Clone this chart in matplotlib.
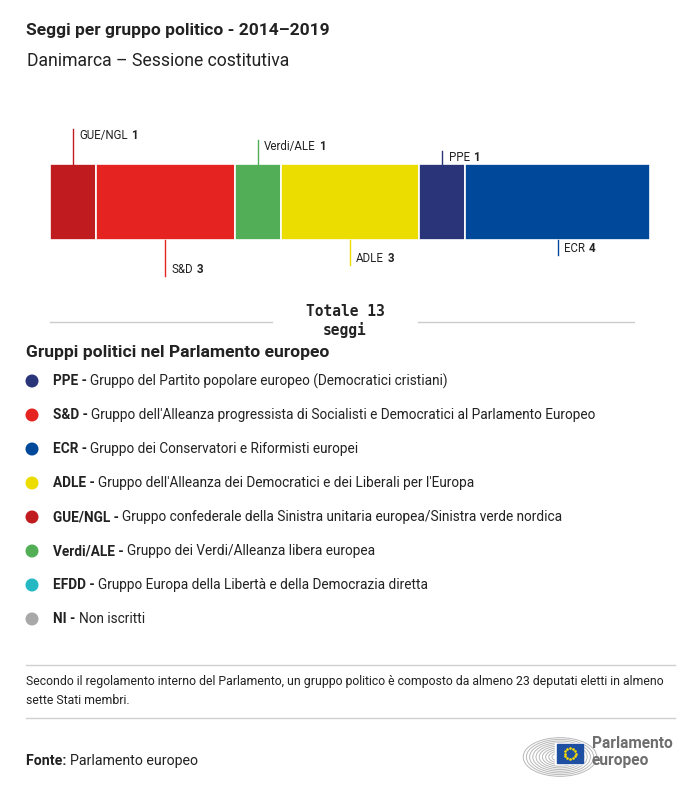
import matplotlib
matplotlib.use("Agg")
import matplotlib.pyplot as plt
from matplotlib.transforms import blended_transform_factory
from matplotlib.patches import Circle, Arc, Rectangle
import numpy as np

plt.rcParams['font.family'] = ['Roboto', 'DejaVu Sans']

# ---- data ----
groups = ["GUE/NGL", "S&D", "Verdi/ALE", "ADLE", "PPE", "ECR"]
seats = [1, 3, 1, 3, 1, 4]
bar_colors = ["#C01B1E", "#E52421", "#52AE57", "#EBDD00", "#2A3479", "#00489A"]
label_side = ["above", "below", "above", "below", "above", "below"]
label_level = [0.46, 0.47, 0.32, 0.33, 0.17, 0.20]   # leader line lengths (axes fraction)

legend_abbr = ["PPE", "S&D", "ECR", "ADLE", "GUE/NGL", "Verdi/ALE", "EFDD", "NI"]
legend_desc = [
    "Gruppo del Partito popolare europeo (Democratici cristiani)",
    "Gruppo dell'Alleanza progressista di Socialisti e Democratici al Parlamento Europeo",
    "Gruppo dei Conservatori e Riformisti europei",
    "Gruppo dell'Alleanza dei Democratici e dei Liberali per l'Europa",
    "Gruppo confederale della Sinistra unitaria europea/Sinistra verde nordica",
    "Gruppo dei Verdi/Alleanza libera europea",
    "Gruppo Europa della Libertà e della Democrazia diretta",
    "Non iscritti",
]
legend_colors = ["#2A3479", "#E52421", "#00489A", "#EBDD00", "#C01B1E", "#52AE57", "#24B8C3", "#A8A8A8"]

title = "Seggi per gruppo politico - 2014–2019"
subtitle = "Danimarca – Sessione costitutiva"
total_seats = sum(seats)

W, H = 700, 786
fig = plt.figure(figsize=(W / 100, H / 100), dpi=100)
fig.patch.set_facecolor("white")

# overlay axes in pixel coordinates
ov = fig.add_axes([0, 0, 1, 1])
ov.set_xlim(0, W)
ov.set_ylim(H, 0)
ov.axis("off")

TXT = "#222222"
ov.text(26, 30, title, fontsize=12.5, fontweight="bold", color=TXT, va="center", ha="left")
ov.text(27, 61, subtitle, fontsize=12.7, color=TXT, va="center", ha="left")

# ---- stacked bar ----
bx0, bx1, by0, by1 = 50, 650, 164, 240
bax = fig.add_axes([bx0 / W, 1 - by1 / H, (bx1 - bx0) / W, (by1 - by0) / H])
bax.set_xlim(0, total_seats)
bax.set_ylim(0, 1)
bax.axis("off")
lefts = np.concatenate([[0], np.cumsum(seats)[:-1]])
bax.barh([0.5] * len(seats), seats, left=lefts, height=1.0, color=bar_colors,
         edgecolor="white", linewidth=1.2)

tr = blended_transform_factory(bax.transData, bax.transAxes)
for g, s, l, c, side, lev in zip(groups, seats, lefts, bar_colors, label_side, label_level):
    cx = l + s / 2
    if side == "above":
        y0, y1 = 1.0, 1.0 + lev
        ty = 1.0 + lev
        va = "top"
    else:
        y0, y1 = 0.0, -lev
        ty = -lev + 0.0
        va = "bottom"
    bax.plot([cx, cx], [y0, y1], color=c, lw=1, transform=tr, clip_on=False)
    t = bax.annotate(g, xy=(cx, ty), xycoords=tr, xytext=(4.5, 0), textcoords="offset points",
                     fontsize=8.3, color=TXT, va=va, ha="left")
    bax.annotate(str(s), xy=(1, 0), xycoords=t, xytext=(2.5, 0), textcoords="offset points",
                 fontsize=8.3, fontweight="bold", color=TXT, va="bottom", ha="left")

# ---- total ----
ov.plot([50, 272], [322, 322], color="#CCCCCC", lw=1)
ov.plot([418, 634], [322, 322], color="#CCCCCC", lw=1)
ov.text(345, 321, f"Totale {total_seats}\nseggi", family="DejaVu Sans Mono", fontweight="bold",
        fontsize=10.5, color=TXT, ha="center", va="center", linespacing=1.3)

# ---- legend ----
ov.text(26, 352, "Gruppi politici nel Parlamento europeo", fontsize=12.6, fontweight="bold",
        color=TXT, va="center", ha="left")
for i, (ab, de, co) in enumerate(zip(legend_abbr, legend_desc, legend_colors)):
    y = 381 + i * 34
    ov.add_patch(Circle((32, y), 6.5, color=co, lw=0))
    t = ov.text(53, y, ab + " - ", fontsize=9.8, fontweight="bold", color=TXT, va="center", ha="left")
    ov.annotate(de, xy=(1, 0.5), xycoords=t, xytext=(0, 0), textcoords="offset points",
                fontsize=9.8, color=TXT, va="center", ha="left")

# ---- footer ----
ov.plot([26, 675], [665, 665], color="#D0D0D0", lw=1)
ov.text(26, 682, "Secondo il regolamento interno del Parlamento, un gruppo politico è composto da almeno 23 deputati eletti in almeno",
        fontsize=8.85, color=TXT, va="center", ha="left")
ov.text(26, 700, "sette Stati membri.", fontsize=8.85, color=TXT, va="center", ha="left")
ov.plot([26, 675], [718, 718], color="#D0D0D0", lw=1)
t = ov.text(26, 761, "Fonte: ", fontsize=10.2, fontweight="bold", color=TXT, va="center", ha="left")
ov.annotate("Parlamento europeo", xy=(1, 0.5), xycoords=t, xytext=(0, 0), textcoords="offset points",
            fontsize=10.2, color=TXT, va="center", ha="left")

# logo
cx, cy = 560, 757
for r in np.arange(8, 40, 3.2):
    ov.add_patch(Arc((cx, cy), 2 * r, 1.05 * r, theta1=0, theta2=360, color="#B8B8B8", lw=0.7))
ov.add_patch(Rectangle((555, 743), 28, 21, color="white", zorder=3))
ov.add_patch(Rectangle((557, 744), 26, 19, color="#1F4FA0", zorder=4))
ang = np.linspace(0, 2 * np.pi, 13)[:-1]
ov.scatter(570 + 5.5 * np.cos(ang), 753.5 + 5.5 * np.sin(ang), s=0.8, color="#FFDD00", zorder=5)
ov.text(592, 743, "Parlamento", fontsize=11.2, fontweight="bold", color="#6E6E6E", va="center", ha="left")
ov.text(592, 760, "europeo", fontsize=11.2, fontweight="bold", color="#6E6E6E", va="center", ha="left")

fig.savefig("out.png", dpi=100, facecolor="white")
